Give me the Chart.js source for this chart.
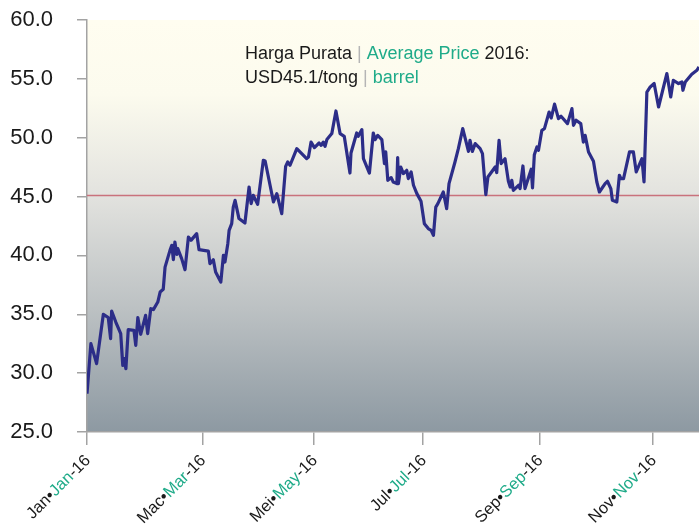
<!DOCTYPE html>
<html>
<head>
<meta charset="utf-8">
<script src="https://cdn.jsdelivr.net/npm/chart.js@4.4.1/dist/chart.umd.min.js"></script>
<style>
  html, body { margin: 0; padding: 0; background: #ffffff; }
  #priceChart { display: block; }
</style>
</head>
<body>
<canvas id="priceChart" width="699" height="527"></canvas>
<script>
// Trading-day position (0 = start of Jan 2016) and price (USD/barrel).
const dayIdx = [
  0, 1.5, 3.7, 6.3, 8.2, 9.1, 9.5, 11.1, 13.0, 13.8, 14.4, 15.0, 15.9, 18.1, 18.8, 19.6, 20.7, 22.6, 23.4, 24.6,
  25.6, 27.3, 28.2, 29.4, 30.1, 32.0, 32.7, 33.3, 33.9, 34.6, 35.0, 36.5, 37.8, 39.1, 40.1, 42.3, 43.2, 46.8, 47.4, 48.7,
  49.6, 51.6, 52.6, 53.2, 54.3, 54.8, 55.8, 56.4, 57.1, 58.6, 60.9, 62.5, 63.3, 64.1, 65.8, 68.0, 68.7, 71.9, 73.2, 75.1,
  76.6, 77.4, 78.3, 80.9, 84.7, 85.4, 86.4, 87.7, 89.5, 90.3, 91.1, 91.8, 92.5, 94.4, 96.0, 97.6, 99.2, 101.4, 101.8, 104.0,
  104.6, 106.0, 106.6, 108.9, 110.4, 111.1, 112.1, 113.7, 114.7, 115.2, 116.0, 117.3, 118.1, 119.5, 119.8, 120.1, 121.0, 122.0, 123.3, 123.9,
  125.0, 125.9, 127.2, 128.8, 130.1, 131.6, 132.7, 133.6, 134.5, 135.3, 137.4, 138.7, 139.6, 141.9, 143.2, 144.9, 147.1, 147.7, 148.6, 149.7,
  151.6, 152.5, 153.8, 154.6, 157.4, 158.0, 158.9, 159.7, 161.2, 162.5, 163.2, 163.8, 164.4, 166.4, 167.0, 168.1, 168.9, 171.3, 171.8, 172.5,
  173.5, 174.1, 175.4, 176.4, 178.2, 179.0, 180.3, 181.8, 182.8, 185.3, 187.0, 187.6, 188.6, 190.4, 191.4, 192.1, 193.4, 195.3, 196.6, 197.6,
  199.8, 200.7, 202.0, 202.6, 204.3, 205.3, 205.9, 206.9, 209.2, 210.7, 211.8, 214.0, 214.8, 215.9, 217.2, 218.7, 220.4, 223.6, 225.1, 226.1,
  228.1, 229.4, 229.8, 230.7, 233.2, 235.2, 236.0,
];
const price = [
  28.26, 32.51, 30.81, 35.0, 34.72, 32.93, 35.28, 34.34, 33.36, 30.66, 31.23, 30.38, 33.7, 33.64, 32.36, 34.72, 33.3, 34.91, 33.36, 35.48,
  35.4, 36.04, 36.89, 37.12, 39.01, 40.43, 40.86, 39.64, 41.14, 40.09, 40.58, 39.73, 38.79, 41.56, 41.28, 41.85, 40.49, 40.37, 39.3, 39.64,
  38.59, 37.74, 40.01, 39.44, 41.0, 42.13, 42.7, 44.11, 44.68, 43.13, 42.75, 45.81, 44.4, 45.11, 44.34, 48.08, 48.02, 44.54, 45.25, 43.55,
  47.57, 47.94, 47.66, 49.07, 48.22, 48.36, 49.63, 49.16, 49.55, 49.35, 49.63, 49.27, 49.84, 50.35, 52.27, 50.35, 50.12, 47.0, 48.7, 50.4,
  50.12, 50.69, 48.22, 47.0, 50.4, 49.84, 50.2, 49.84, 47.8, 48.79, 46.38, 46.61, 46.24, 46.1, 48.31, 46.1, 47.51, 46.95, 47.23, 46.53,
  47.09, 45.96, 45.25, 44.6, 42.7, 42.28, 42.13, 41.71, 44.11, 44.4, 45.39, 43.98, 46.1, 47.94, 49.07, 50.77, 48.84, 49.78, 48.84, 49.5,
  49.07, 48.65, 45.17, 46.66, 47.51, 47.04, 49.78, 47.8, 48.22, 46.3, 45.81, 46.38, 45.53, 45.96, 45.68, 47.6, 45.68, 47.32, 45.73, 48.56,
  49.21, 48.93, 50.63, 50.77, 52.18, 51.67, 52.85, 51.62, 51.82, 51.2, 52.47, 51.05, 51.48, 51.2, 49.63, 50.2, 48.79, 48.0, 46.24, 45.39,
  46.1, 46.3, 45.68, 44.68, 44.54, 46.81, 46.53, 46.53, 48.79, 48.79, 47.09, 48.22, 46.24, 53.88, 54.31, 54.6, 52.61, 55.45, 53.46, 54.88,
  54.6, 54.73, 54.03, 54.73, 55.39, 55.73, 56.01,
];
const avgPrice = 45.1;

// Month ticks on the x axis (Malay / English).
const monthPos = [0, 44.5, 87.5, 129.6, 174.5, 218.3];
const monthMs = ['Jan', 'Mac', 'Mei', 'Jul', 'Sep', 'Nov'];
const monthEn = ['Jan', 'Mar', 'May', 'Jul', 'Sep', 'Nov'];
const yearSuffix = '-16';

const FONT = '"Liberation Sans", Arial, Helvetica, sans-serif';
const BLACK = '#1a1a1a';
const GREEN = '#1fab89';
const BAR = '#b5b5b5';
const AXIS = '#a3a3a3';

// Draw a run of coloured text pieces; x is the left edge (or right edge when alignRight).
const drawPieces = (ctx, pieces, x, y, alignRight) => {
  const total = pieces.reduce((w, p) => w + ctx.measureText(p.text).width, 0);
  let cursor = alignRight ? x - total : x;
  pieces.forEach((p) => {
    ctx.fillStyle = p.color;
    ctx.fillText(p.text, cursor, y);
    cursor += ctx.measureText(p.text).width;
  });
};

const backgroundPlugin = {
  id: 'plotBackground',
  beforeDraw: (chart) => {
    const { ctx, chartArea: a } = chart;
    const grad = ctx.createLinearGradient(0, a.top, 0, a.bottom);
    grad.addColorStop(0, '#fffdf0');
    grad.addColorStop(0.18, '#fcfbee');
    grad.addColorStop(0.42, '#e3e3df');
    grad.addColorStop(0.7, '#bcc1c3');
    grad.addColorStop(1, '#8d99a2');
    ctx.save();
    ctx.fillStyle = grad;
    ctx.fillRect(a.left, a.top, a.right - a.left, a.bottom - a.top);
    ctx.restore();
  },
};

const monthLabelPlugin = {
  id: 'monthLabels',
  afterDraw: (chart) => {
    const { ctx, chartArea } = chart;
    const xScale = chart.scales.x;
    ctx.save();
    ctx.font = `16.5px ${FONT}`;
    ctx.textBaseline = 'middle';
    monthPos.forEach((pos, i) => {
      ctx.save();
      ctx.translate(xScale.getPixelForValue(pos) + 1, chartArea.bottom + 26);
      ctx.rotate(-Math.PI / 4);
      drawPieces(ctx, [
        { text: `${monthMs[i]}\u2022`, color: BLACK },
        { text: monthEn[i], color: GREEN },
        { text: yearSuffix, color: BLACK },
      ], 0, 0, true);
      ctx.restore();
    });
    ctx.restore();
  },
};

const notePlugin = {
  id: 'avgNote',
  afterDraw: (chart) => {
    const { ctx } = chart;
    ctx.save();
    ctx.font = `18px ${FONT}`;
    ctx.textBaseline = 'alphabetic';
    drawPieces(ctx, [
      { text: 'Harga Purata ', color: BLACK },
      { text: '| ', color: BAR },
      { text: 'Average Price', color: GREEN },
      { text: ' 2016:', color: BLACK },
    ], 245, 59);
    drawPieces(ctx, [
      { text: `USD${avgPrice}/tong `, color: BLACK },
      { text: '| ', color: BAR },
      { text: 'barrel', color: GREEN },
    ], 245, 83);
    ctx.restore();
  },
};

const ctx = document.getElementById('priceChart').getContext('2d');
new Chart(ctx, {
  type: 'line',
  data: {
    datasets: [
      {
        label: 'Price',
        data: dayIdx.map((d, i) => ({ x: d, y: price[i] })),
        borderColor: '#2c2d88',
        borderWidth: 3.2,
        borderJoinStyle: 'round',
        pointRadius: 0,
        tension: 0,
      },
      {
        label: 'Average',
        data: [{ x: 0, y: avgPrice }, { x: 236, y: avgPrice }],
        borderColor: '#c9727c',
        borderWidth: 1.5,
        pointRadius: 0,
      },
    ],
  },
  options: {
    responsive: false,
    animation: false,
    devicePixelRatio: 1,
    layout: { padding: { top: 20, right: 0, bottom: 0, left: 0 } },
    scales: {
      x: {
        type: 'linear',
        min: 0,
        max: 236,
        afterBuildTicks: (scale) => {
          scale.ticks = monthPos.map((v) => ({ value: v }));
        },
        ticks: { display: false },
        grid: { drawOnChartArea: false, tickLength: 13, color: AXIS, lineWidth: 1.5 },
        border: { color: AXIS, width: 1.5 },
        afterFit: (scale) => {
          scale.height = 95;
        },
      },
      y: {
        min: 25,
        max: 60,
        ticks: {
          stepSize: 5,
          padding: 24,
          color: BLACK,
          font: { size: 22, family: FONT },
          callback: (value) => value.toFixed(1),
        },
        grid: { drawOnChartArea: false, tickLength: 10, color: AXIS, lineWidth: 1.5 },
        border: { color: AXIS, width: 1.5 },
        afterFit: (scale) => {
          scale.width = 87;
          // The label padding would otherwise push the plot top down.
          scale.paddingTop = 0;
          scale.paddingBottom = 0;
        },
      },
    },
    plugins: {
      legend: { display: false },
      tooltip: { enabled: false },
    },
  },
  plugins: [backgroundPlugin, monthLabelPlugin, notePlugin],
});
</script>
</body>
</html>
